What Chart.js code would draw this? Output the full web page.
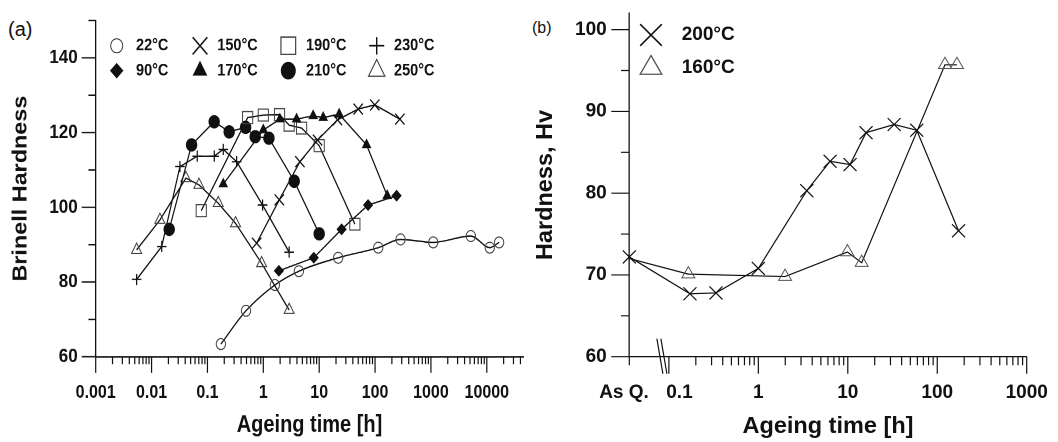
<!DOCTYPE html>
<html>
<head>
<meta charset="utf-8">
<script src="https://cdn.jsdelivr.net/npm/chart.js"></script>
<style>
  html, body { margin: 0; padding: 0; background: #fff; }
  body { width: 1058px; height: 442px; position: relative; overflow: hidden; font-family: 'Liberation Sans', Arial, sans-serif; color: #111; }
  .tag { position: absolute; line-height: 1; }
  /* panel (a) of the original figure is stretched vertically */
  #boxA { position: absolute; left: 0; top: 0; width: 540px; height: 378px; transform: scaleY(1.17); transform-origin: 0 0; }
  #boxB { position: absolute; left: 525px; top: 0; width: 533px; height: 442px; }
</style>
</head>
<body>
<div class="tag" style="left:8px; top:19px; font-size:20px;">(a)</div>
<div class="tag" style="left:532px; top:20px; font-size:16px;">(b)</div>
<div id="boxA"><canvas id="chartA"></canvas></div>
<div id="boxB"><canvas id="chartB"></canvas></div>
<script>
// ---- (a) Brinell hardness vs ageing time [h] ----
const t22 = [0.174, 0.49, 1.61, 4.33, 21.9, 114, 286, 1100, 5180, 11300, 16600];
const hb22 = [63.4, 72.3, 79.2, 82.9, 86.5, 89.2, 91.4, 90.6, 92.3, 89.2, 90.6];
const t90 = [1.9, 8.0, 25.2, 75, 243];
const hb90 = [83.0, 86.5, 94.1, 100.6, 103.1];
const t150 = [0.76, 1.93, 4.52, 9.35, 21.3, 49.9, 99, 278];
const hb150 = [90.4, 102.0, 112.2, 118.0, 123.4, 126.3, 127.4, 123.6];
const t170 = [0.192, 1.0, 1.98, 3.94, 7.8, 11.8, 22.8, 70.5, 165];
const hb170 = [106.2, 120.7, 123.6, 123.6, 124.5, 124.0, 124.9, 116.7, 103.1];
const t190 = [0.0775, 0.524, 1.0, 1.95, 2.9, 4.84, 10, 43.5];
const hb190 = [99.1, 124.0, 124.7, 124.8, 122.0, 121.2, 116.5, 95.5];
const t210 = [0.0207, 0.052, 0.132, 0.245, 0.482, 0.716, 1.26, 3.57, 10];
const hb210 = [94.1, 116.7, 122.9, 120.2, 121.4, 118.9, 118.5, 107.0, 92.9];
const t230 = [0.0054, 0.0152, 0.0322, 0.0657, 0.1325, 0.192, 0.333, 0.97, 2.9];
const hb230 = [80.7, 89.5, 110.9, 113.7, 113.7, 115.5, 112.2, 100.6, 88.0];
const t250 = [0.0054, 0.0141, 0.0412, 0.0705, 0.156, 0.319, 0.933, 2.9];
const hb250 = [88.6, 96.6, 107.8, 106.0, 101.1, 95.7, 85.0, 72.5];

const xTicksA = [0.001, 0.01, 0.1, 1, 10, 100, 1000, 10000];
const yTicksA = [60, 80, 100, 120, 140];
const yMinorA = [70, 90, 110, 130, 150];

// ---- (b) Vickers hardness vs ageing time [h] ----
const asQuenched = 0.0361;   // where "As Q." sits on the log axis
const t200 = [asQuenched, 0.172, 0.336, 1.0, 3.48, 6.34, 10.6, 16.0, 33, 59, 173];
const hv200 = [72.2, 67.7, 67.8, 70.8, 80.3, 83.9, 83.5, 87.4, 88.4, 87.7, 75.4];
const t160 = [asQuenched, 0.165, 1.99, 9.9, 14.3, 122, 166];
const hv160 = [72.0, 70.1, 69.8, 72.8, 71.5, 95.7, 95.7];

const xTicksB = [asQuenched, 0.1, 1, 10, 100, 1000];
const yTicksB = [60, 70, 80, 90, 100];
const yMinorB = [65, 75, 85, 95];

const FONT = "'Liberation Sans', Arial, sans-serif";
const INK = '#111';

// 2..9 subdivisions of every decade inside [lo, hi]
function logMinors(lo, hi) {
    const out = [];
    for (let e = -4; e <= 5; e++) {
        for (let k = 2; k <= 9; k++) {
            const v = k * Math.pow(10, e);
            if (v > lo && v < hi) out.push(v);
        }
    }
    return out;
}

function series(label, times, values, style) {
    return Object.assign({
        label: label,
        data: times.map((t, i) => ({ x: t, y: values[i] })),
        showLine: true,
        borderColor: INK,
        borderWidth: 1.2,
        pointBorderColor: INK,
        pointBorderWidth: 1,
        pointBackgroundColor: 'rgba(0,0,0,0)',
        pointHoverRadius: 0,
        tension: 0,
        clip: false
    }, style);
}

function zeroPad(s) {
    s.paddingLeft = s.paddingRight = s.paddingTop = s.paddingBottom = 0;
}

// tick marks drawn outside the axes (long = labelled, short = minor)
function tickMarks(spec) {
    return {
        id: 'tickMarks',
        afterDraw(chart) {
            const ctx = chart.ctx;
            const { left, bottom } = chart.chartArea;
            const xs = chart.scales.x, ys = chart.scales.y;
            ctx.save();
            ctx.strokeStyle = INK;
            ctx.lineWidth = spec.width;
            ctx.beginPath();
            spec.xMajor.forEach(v => { const p = xs.getPixelForValue(v); ctx.moveTo(p, bottom); ctx.lineTo(p, bottom + spec.xMajorLen); });
            spec.xMinor.forEach(v => { const p = xs.getPixelForValue(v); ctx.moveTo(p, bottom); ctx.lineTo(p, bottom + spec.xMinorLen); });
            spec.yMajor.forEach(v => { const p = ys.getPixelForValue(v); ctx.moveTo(left, p); ctx.lineTo(left - spec.yMajorLen, p); });
            spec.yMinor.forEach(v => { const p = ys.getPixelForValue(v); ctx.moveTo(left, p); ctx.lineTo(left - spec.yMinorLen, p); });
            if (spec.breakAt) {
                const p = xs.getPixelForValue(spec.breakAt);
                ctx.moveTo(p - 12, bottom - 18); ctx.lineTo(p - 6, bottom + 17);
                ctx.moveTo(p - 8, bottom - 18); ctx.lineTo(p - 2, bottom + 17);
            }
            ctx.stroke();
            ctx.restore();
        }
    };
}

// symbol key drawn inside the plot
function symbolKey(items, font) {
    return {
        id: 'symbolKey',
        afterDraw(chart) {
            const ctx = chart.ctx;
            ctx.save();
            items.forEach(it => {
                const ds = chart.data.datasets[it.index];
                ctx.strokeStyle = ds.pointBorderColor;
                ctx.fillStyle = ds.pointBackgroundColor;
                ctx.lineWidth = it.lw;
                Chart.helpers.drawPoint(ctx, { pointStyle: ds.pointStyle, radius: it.r, rotation: 0, borderWidth: it.lw }, it.mx, it.y);
                ctx.fillStyle = INK;
                ctx.font = font;
                ctx.textAlign = 'left';
                ctx.textBaseline = 'middle';
                ctx.fillText(ds.label, it.tx, it.y);
            });
            ctx.restore();
        }
    };
}

// ---------- panel (a) ----------
const dsA = [
    series('22°C', t22, hb22, { pointStyle: 'circle', pointRadius: 4.7, pointBorderColor: '#444', cubicInterpolationMode: 'monotone' }),
    series('90°C', t90, hb90, { pointStyle: 'rectRot', pointRadius: 4.4, pointBackgroundColor: INK }),
    series('150°C', t150, hb150, { pointStyle: 'crossRot', pointRadius: 6.6, pointBorderWidth: 1.2 }),
    series('170°C', t170, hb170, { pointStyle: 'triangle', pointRadius: 4.6, pointBackgroundColor: INK }),
    series('190°C', t190, hb190, { pointStyle: 'rect', pointRadius: 7.2, pointBorderColor: '#444' }),
    series('210°C', t210, hb210, { pointStyle: 'circle', pointRadius: 5.2, pointBackgroundColor: INK }),
    series('230°C', t230, hb230, { pointStyle: 'cross', pointRadius: 4.8, pointBorderWidth: 1.2 }),
    series('250°C', t250, hb250, { pointStyle: 'triangle', pointRadius: 5.8, pointBorderColor: '#444' })
];

const keyA = [
    { index: 0, mx: 116.7, tx: 136, y: 39.1, r: 6, lw: 1 },
    { index: 2, mx: 200, tx: 217.3, y: 39.1, r: 10.4, lw: 1.4 },
    { index: 4, mx: 288.3, tx: 306, y: 39.1, r: 10.4, lw: 1.2 },
    { index: 6, mx: 376.7, tx: 394, y: 39.1, r: 7.5, lw: 1.4 },
    { index: 1, mx: 116.7, tx: 136, y: 60.4, r: 6, lw: 1 },
    { index: 3, mx: 200, tx: 217.3, y: 60.4, r: 7.5, lw: 1 },
    { index: 5, mx: 288.3, tx: 306, y: 60.4, r: 7, lw: 1 },
    { index: 7, mx: 376.7, tx: 394, y: 60.4, r: 9.5, lw: 1.1 }
];

new Chart(document.getElementById('chartA'), {
    type: 'scatter',
    data: { datasets: dsA },
    options: {
        responsive: true,
        maintainAspectRatio: false,
        devicePixelRatio: 2,
        animation: false,
        events: [],
        layout: { padding: { left: 0, right: 16.7, top: 17.5, bottom: 0 } },
        plugins: { legend: { display: false }, tooltip: { enabled: false } },
        scales: {
            x: {
                type: 'logarithmic',
                min: 0.001,
                max: 45000,
                afterBuildTicks: s => { s.ticks = xTicksA.map(v => ({ value: v })); },
                afterFit: s => { s.height = 73.1; zeroPad(s); },
                grid: { display: false, drawTicks: false },
                border: { display: true, color: INK, width: 1.3 },
                ticks: { autoSkip: false, maxRotation: 0, padding: 21, color: INK,
                         font: { family: FONT, size: 16, weight: 'bold' }, callback: v => String(v) },
                title: { display: true, text: 'Ageing time [h]', color: INK,
                         font: { family: FONT, size: 20, weight: 'bold' }, padding: { top: 0, bottom: 2.5 } }
            },
            y: {
                min: 60,
                max: 150,
                afterBuildTicks: s => { s.ticks = yTicksA.map(v => ({ value: v })); },
                afterFit: s => { s.width = 95.7; zeroPad(s); },
                grid: { display: false, drawTicks: false },
                border: { display: true, color: INK, width: 1.3 },
                ticks: { padding: 18, color: INK, font: { family: FONT, size: 17, weight: 'bold' } },
                title: { display: true, text: 'Brinell Hardness', color: INK,
                         font: { family: FONT, size: 20, weight: 'bold' }, padding: { top: 9, bottom: 0 } }
            }
        }
    },
    plugins: [
        tickMarks({ width: 1.2, xMajor: xTicksA, xMinor: logMinors(0.001, 45000), xMajorLen: 13.7, xMinorLen: 6.3,
                    yMajor: yTicksA, yMinor: yMinorA, yMajorLen: 14, yMinorLen: 7.3 }),
        symbolKey(keyA, "bold 14.5px " + FONT)
    ]
});

// ---------- panel (b) ----------
const dsB = [
    series('200°C', t200, hv200, { pointStyle: 'crossRot', pointRadius: 9.2, pointBorderWidth: 1.2 }),
    series('160°C', t160, hv160, { pointStyle: 'triangle', pointBorderColor: '#555',
                                    pointRadius: ctx => ctx.dataIndex === 0 ? 0 : 7.5 })
];

const keyB = [
    { index: 0, mx: 126, tx: 156.7, y: 35, r: 15.3, lw: 1.6 },
    { index: 1, mx: 126, tx: 156.7, y: 68, r: 12.5, lw: 1.3 }
];

// "As Q." sits a little left of its tick and "0.1" a little right of the break
function labelB(v) {
    if (v === asQuenched) return 'As Q.  ';
    if (v === 0.1) return '    0.1';
    return String(v);
}

new Chart(document.getElementById('chartB'), {
    type: 'scatter',
    data: { datasets: dsB },
    options: {
        responsive: true,
        maintainAspectRatio: false,
        devicePixelRatio: 2,
        animation: false,
        events: [],
        layout: { padding: { left: 0, right: 31.3, top: 13.3, bottom: 0 } },
        plugins: { legend: { display: false }, tooltip: { enabled: false } },
        scales: {
            x: {
                type: 'logarithmic',
                min: asQuenched,
                max: 1000,
                afterBuildTicks: s => { s.ticks = xTicksB.map(v => ({ value: v })); },
                afterFit: s => { s.height = 85.3; zeroPad(s); },
                grid: { display: false, drawTicks: false },
                border: { display: true, color: INK, width: 1.3 },
                ticks: { autoSkip: false, maxRotation: 0, padding: 24.6, color: INK,
                         font: { family: FONT, size: 19, weight: 'bold' }, callback: labelB },
                title: { display: true, text: 'Ageing time [h]', color: INK,
                         font: { family: FONT, size: 23.5, weight: 'bold' }, padding: { top: 0, bottom: 1.2 } }
            },
            y: {
                min: 60,
                max: 102,
                afterBuildTicks: s => { s.ticks = yTicksB.map(v => ({ value: v })); },
                afterFit: s => { s.width = 104.3; zeroPad(s); },
                grid: { display: false, drawTicks: false },
                border: { display: true, color: INK, width: 1.3 },
                ticks: { padding: 22.6, color: INK, font: { family: FONT, size: 19, weight: 'bold' } },
                title: { display: true, text: 'Hardness, Hv', color: INK,
                         font: { family: FONT, size: 23.5, weight: 'bold' }, padding: { top: 6.4, bottom: 0 } }
            }
        }
    },
    plugins: [
        tickMarks({ width: 1.2, xMajor: [0.1, 1, 10, 100, 1000], xMinor: [asQuenched].concat(logMinors(0.1, 1000)),
                    xMajorLen: 17, xMinorLen: 8.5, yMajor: yTicksB, yMinor: yMinorB, yMajorLen: 18, yMinorLen: 8.3,
                    breakAt: 0.1 }),
        symbolKey(keyB, "bold 19px " + FONT)
    ]
});
</script>
</body>
</html>
